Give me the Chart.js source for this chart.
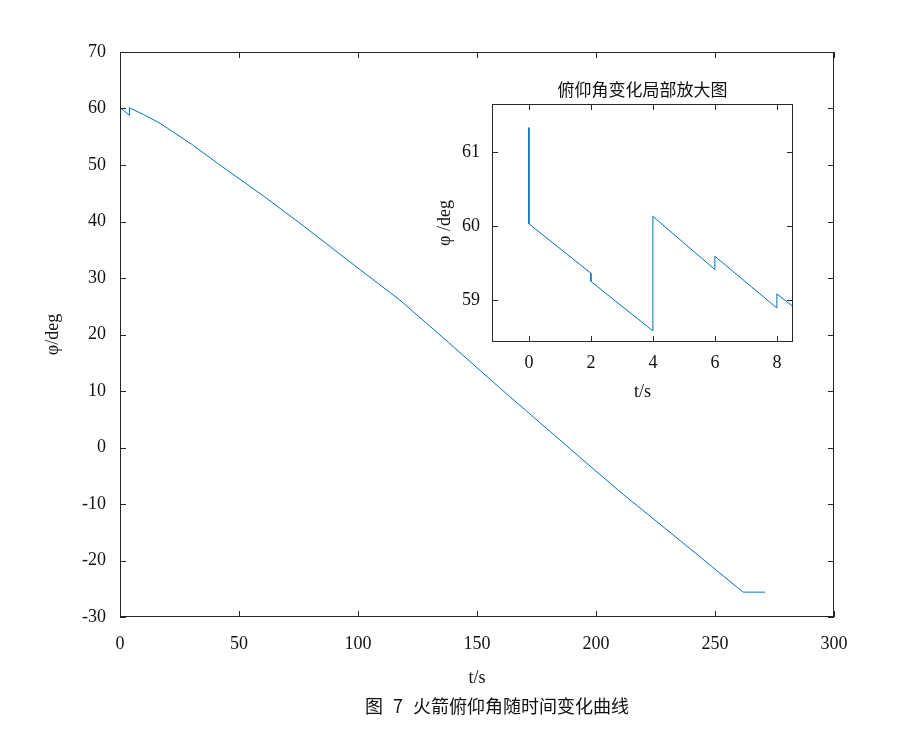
<!DOCTYPE html>
<html><head><meta charset="utf-8">
<script src="https://cdn.jsdelivr.net/npm/chart.js@4"></script>
<style>
body{margin:0;background:#fff;}
#wrap{position:relative;width:904px;height:735px;}
canvas{position:absolute;left:0;top:0;}
#cap{position:absolute;left:45px;width:904px;top:692px;text-align:center;font:18px "Noto Sans CJK SC";color:#111;word-spacing:6px;white-space:nowrap;}
</style></head><body>
<div id="wrap">
<canvas id="main" width="904" height="735"></canvas>
<canvas id="inset" width="904" height="735"></canvas>
<div id="cap">图 7 火箭俯仰角随时间变化曲线</div>
</div>
<script>
'use strict';
// main curve: t (s) / pitch angle (deg)
const mainT   = [0, 4, 4, 10, 16.8, 30, 42, 60, 75.6, 98, 117.6, 138, 159.7, 194.5, 210, 236, 261.8, 271];
const mainPhi = [60.2, 58.8, 60.1, 58.9, 57.4, 53.7, 50, 44.6, 39.7, 32.4, 26.1, 18.6, 10.5, -2.2, -7.8, -16.7, -25.6, -25.6];
const mainXTicks = [0, 50, 100, 150, 200, 250, 300];
const mainYTicks = [-30, -20, -10, 0, 10, 20, 30, 40, 50, 60, 70];
// zoomed part
const zoomT   = [0, 0, 2, 2, 4, 4, 6, 6, 8, 8, 8.52];
const zoomPhi = [61.33, 60.03, 59.36, 59.25, 58.58, 60.13, 59.41, 59.59, 58.89, 59.08, 58.91];
const zoomXTicks = [0, 2, 4, 6, 8];
const zoomYTicks = [59, 60, 61];

const blue = '#0072BD';
const ink = '#262626';
const font = {family: '"Liberation Serif", "Times New Roman", serif', size: 18};

function framePlugin(title) {
  return {
    id: 'frame',
    beforeDraw(chart) {
      const {ctx, chartArea: a} = chart;
      ctx.save();
      ctx.fillStyle = '#fff';
      ctx.fillRect(a.left, a.top, a.right - a.left, a.bottom - a.top);
      ctx.restore();
    },
    afterDraw(chart) {
      const {ctx, chartArea: a, scales} = chart;
      ctx.save();
      ctx.strokeStyle = ink;
      ctx.lineWidth = 1;
      ctx.strokeRect(a.left + 0.5, a.top + 0.5, a.right - a.left - 1, a.bottom - a.top - 1);
      ctx.beginPath();
      scales.x.ticks.forEach(t => {
        const px = Math.round(scales.x.getPixelForValue(t.value)) + 0.5;
        ctx.moveTo(px, a.bottom); ctx.lineTo(px, a.bottom - 6);
        ctx.moveTo(px, a.top); ctx.lineTo(px, a.top + 6);
      });
      scales.y.ticks.forEach(t => {
        const py = Math.round(scales.y.getPixelForValue(t.value)) + 0.5;
        ctx.moveTo(a.left, py); ctx.lineTo(a.left + 6, py);
        ctx.moveTo(a.right, py); ctx.lineTo(a.right - 6, py);
      });
      ctx.stroke();
      if (title) {
        ctx.fillStyle = '#111';
        ctx.font = '17px "Noto Sans CJK SC"';
        ctx.textAlign = 'center';
        ctx.textBaseline = 'bottom';
        ctx.fillText(title, (a.left + a.right) / 2, a.top - 6);
      }
      ctx.restore();
    }
  };
}

function pts(xs, ys) { return xs.map((x, i) => ({x: x, y: ys[i]})); }

function axis(min, max, tickVals, title, pos, size, pad, tpad) {
  return {
    type: 'linear', position: pos, min: min, max: max,
    afterBuildTicks: s => { s.ticks = tickVals.map(v => ({value: v})); },
    afterFit: s => { if (pos === 'left') s.width = size; else s.height = size; },
    ticks: {color: '#111', font: font, padding: pad, autoSkip: false, maxRotation: 0},
    grid: {display: false, drawTicks: false},
    border: {display: false},
    title: {display: true, text: title, color: '#111', font: font, padding: tpad}
  };
}

new Chart(document.getElementById('main'), {
  type: 'line',
  data: {datasets: [{data: pts(mainT, mainPhi), borderColor: blue, borderWidth: 1, pointRadius: 0, tension: 0}]},
  options: {
    responsive: false, animation: false,
    layout: {padding: {left: 40, top: 52, right: 70, bottom: 44}},
    plugins: {legend: {display: false}, tooltip: {enabled: false}},
    scales: {
      x: axis(0, 300, mainXTicks, 't/s', 'bottom', 74, 16, 2),
      y: axis(-30, 70, mainYTicks, 'φ/deg', 'left', 80, 14, 2)
    }
  },
  plugins: [framePlugin(null)]
});

new Chart(document.getElementById('inset'), {
  type: 'line',
  data: {datasets: [{data: pts(zoomT, zoomPhi), borderColor: blue, borderWidth: 1, pointRadius: 0, tension: 0}]},
  options: {
    responsive: false, animation: false,
    layout: {padding: {left: 432, top: 104, right: 111, bottom: 330}},
    plugins: {legend: {display: false}, tooltip: {enabled: false}},
    scales: {
      x: axis(-1.19, 8.52, zoomXTicks, 't/s', 'bottom', 63, 10, {top: 10, bottom: 2}),
      y: axis(58.43, 61.65, zoomYTicks, 'φ /deg', 'left', 60, 12, 2)
    }
  },
  plugins: [framePlugin('俯仰角变化局部放大图')]
});
</script>
</body></html>
